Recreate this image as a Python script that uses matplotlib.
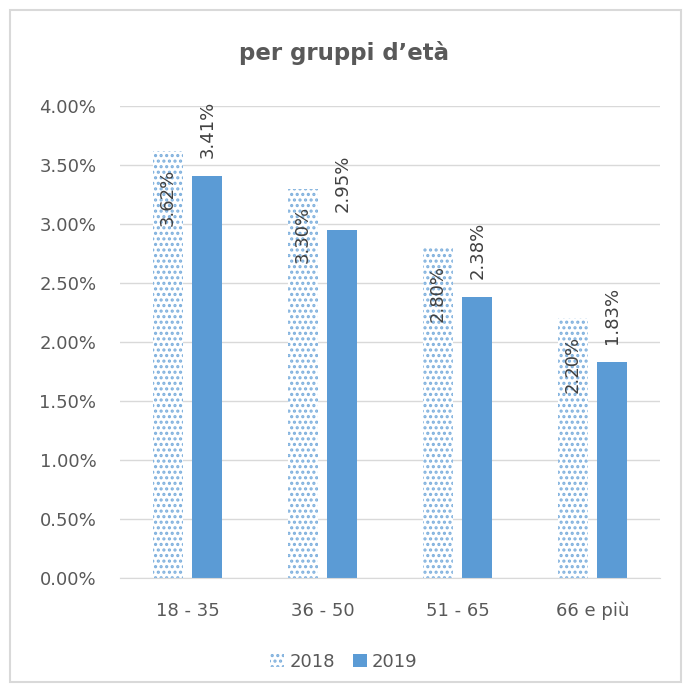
import matplotlib.pyplot as plt
import numpy as np
from matplotlib.patches import Rectangle

categories = ['18 - 35', '36 - 50', '51 - 65', '66 e più']
val_2018 = [3.62, 3.30, 2.80, 2.20]
val_2019 = [3.41, 2.95, 2.38, 1.83]

blue = '#5b9bd5'
txt = '#595959'

plt.rcParams['font.family'] = ['DejaVu Sans']
plt.rcParams['hatch.linewidth'] = 1.5

fig = plt.figure(figsize=(6.88, 6.92), dpi=100)
fig.patches.append(Rectangle((10 / 688, 10 / 692), 671 / 688, 672 / 692, transform=fig.transFigure,
                             fill=False, edgecolor='#d9d9d9', linewidth=1.5))
ax = fig.add_axes([120 / 688, 1 - 578 / 692, 540 / 688, 472 / 692])

x = np.arange(len(categories))
w = 0.222
off = 0.146
b1 = ax.bar(x - off, val_2018, w, color='white', edgecolor='#7fb0dd', hatch='...',
            linewidth=0, label='2018', zorder=2)
b2 = ax.bar(x + off, val_2019, w, color=blue, label='2019', zorder=2)

# etichette: 2018 dentro la barra, 2019 sopra
for xi, v in zip(x - off, val_2018):
    ax.text(xi, v - 0.15, f'{v:.2f}%', rotation=90, ha='center', va='top',
            fontsize=13, color='#404040', zorder=3)
for xi, v in zip(x + off, val_2019):
    ax.text(xi, v + 0.15, f'{v:.2f}%', rotation=90, ha='center', va='bottom',
            fontsize=13, color='#404040', zorder=3)

ax.set_xlim(-0.5, 3.5)
ax.set_ylim(0, 4.0)
yt = np.arange(0, 4.01, 0.5)
ax.set_yticks(yt)
ax.set_yticklabels([f'{t:.2f}%' for t in yt])
ax.set_xticks(x)
ax.set_xticklabels(categories)
ax.tick_params(axis='both', length=0, labelsize=13, colors=txt)
ax.tick_params(axis='x', pad=17)
ax.tick_params(axis='y', pad=17)
ax.yaxis.grid(True, color='#d9d9d9', linewidth=1, zorder=0)
ax.set_axisbelow(True)
for s in ['top', 'right', 'left']:
    ax.spines[s].set_visible(False)
ax.spines['bottom'].set_color('#d9d9d9')

fig.text(0.5, 1 - 60 / 692, 'per gruppi d\u2019età', ha='center', va='baseline',
         fontsize=16.5, fontweight='bold', color=txt)
fig.legend(handles=[b1, b2], loc='center', bbox_to_anchor=(0.5, 1 - 662 / 692),
           ncol=2, frameon=False, fontsize=13, handlelength=0.75, handleheight=0.75,
           columnspacing=1.0, handletextpad=0.3, labelcolor=txt)

fig.savefig('out.png', dpi=100)
